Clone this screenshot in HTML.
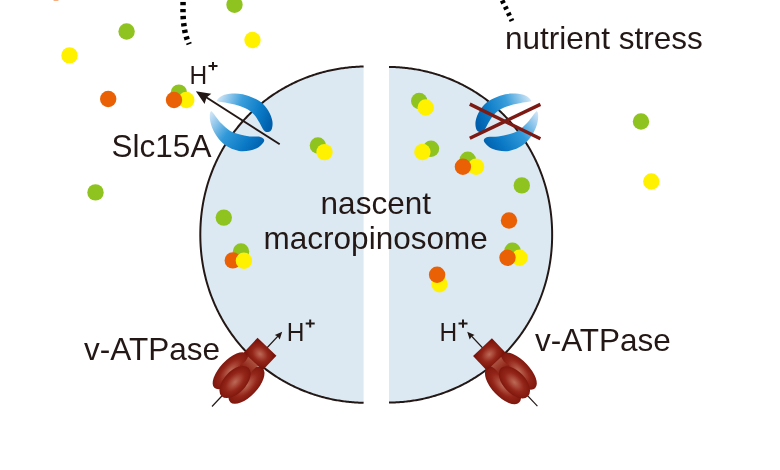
<!DOCTYPE html>
<html><head><meta charset="utf-8"><style>
html,body{margin:0;padding:0;background:#fff;width:780px;height:470px;overflow:hidden;font-family:"Liberation Sans",sans-serif;}
svg{display:block;will-change:transform}
</style></head><body>
<svg width="780" height="470" viewBox="0 0 780 470">
<defs>
<linearGradient id="gtop" gradientUnits="userSpaceOnUse" x1="217" y1="100" x2="272" y2="120">
<stop offset="0" stop-color="#d2e7f7"/><stop offset="0.4" stop-color="#3a9edb"/><stop offset="0.75" stop-color="#0b7bc7"/><stop offset="1" stop-color="#005fac"/></linearGradient>
<linearGradient id="gbot" gradientUnits="userSpaceOnUse" x1="212" y1="112" x2="262" y2="148">
<stop offset="0" stop-color="#cde4f6"/><stop offset="0.4" stop-color="#3199d9"/><stop offset="0.75" stop-color="#0a78c5"/><stop offset="1" stop-color="#005fac"/></linearGradient>
<radialGradient id="vrg" cx="0.5" cy="0.5" r="0.55">
<stop offset="0" stop-color="#bd6a58"/><stop offset="0.55" stop-color="#94261a"/><stop offset="1" stop-color="#7a130a"/></radialGradient>
<radialGradient id="vrh" cx="0.5" cy="0.5" r="0.6">
<stop offset="0" stop-color="#bd6a58"/><stop offset="0.55" stop-color="#94261a"/><stop offset="1" stop-color="#7a130a"/></radialGradient>
<linearGradient id="vneck" x1="0" y1="0" x2="0" y2="1"><stop offset="0" stop-color="#b05a48"/><stop offset="1" stop-color="#8a1d12"/></linearGradient>
</defs>
<rect width="780" height="470" fill="#fff"/>

<path d="M 363.60,66.52 L 363.01,66.54 L 361.64,66.57 L 360.29,66.62 L 358.94,66.67 L 357.59,66.74 L 356.25,66.82 L 354.91,66.90 L 353.57,67.00 L 352.23,67.11 L 350.90,67.23 L 349.57,67.35 L 348.24,67.49 L 346.92,67.64 L 345.60,67.80 L 344.28,67.96 L 342.96,68.14 L 341.65,68.33 L 340.33,68.53 L 339.02,68.74 L 337.72,68.96 L 336.41,69.19 L 335.11,69.43 L 333.81,69.67 L 332.52,69.93 L 331.22,70.20 L 329.93,70.48 L 328.65,70.77 L 327.36,71.07 L 326.08,71.38 L 324.80,71.70 L 323.53,72.03 L 322.26,72.36 L 320.99,72.71 L 319.72,73.07 L 318.46,73.44 L 317.20,73.82 L 315.95,74.21 L 314.70,74.60 L 313.45,75.01 L 312.21,75.43 L 310.97,75.85 L 309.73,76.29 L 308.50,76.74 L 307.27,77.19 L 306.04,77.66 L 304.82,78.13 L 303.61,78.62 L 302.40,79.11 L 301.19,79.61 L 299.99,80.13 L 298.79,80.65 L 297.59,81.18 L 296.40,81.72 L 295.22,82.27 L 294.04,82.83 L 292.86,83.40 L 291.69,83.98 L 290.52,84.56 L 289.36,85.16 L 288.20,85.77 L 287.05,86.38 L 285.91,87.00 L 284.77,87.64 L 283.63,88.28 L 282.50,88.93 L 281.37,89.59 L 280.25,90.26 L 279.14,90.93 L 278.03,91.62 L 276.93,92.32 L 275.83,93.02 L 274.74,93.73 L 273.65,94.45 L 272.57,95.18 L 271.50,95.92 L 270.43,96.66 L 269.37,97.42 L 268.31,98.18 L 267.27,98.95 L 266.22,99.73 L 265.18,100.52 L 264.15,101.32 L 263.13,102.12 L 262.11,102.94 L 261.10,103.76 L 260.10,104.58 L 259.10,105.42 L 258.11,106.27 L 257.12,107.12 L 256.14,107.98 L 255.17,108.85 L 254.21,109.72 L 253.25,110.61 L 252.30,111.50 L 251.36,112.40 L 250.42,113.30 L 249.49,114.22 L 248.57,115.14 L 247.66,116.07 L 246.75,117.00 L 245.85,117.95 L 244.96,118.90 L 244.08,119.85 L 243.20,120.82 L 242.33,121.79 L 241.47,122.77 L 240.62,123.75 L 239.77,124.75 L 238.93,125.75 L 238.10,126.75 L 237.28,127.76 L 236.47,128.78 L 235.66,129.81 L 234.86,130.84 L 234.07,131.88 L 233.29,132.93 L 232.52,133.98 L 231.75,135.04 L 230.99,136.10 L 230.25,137.17 L 229.51,138.25 L 228.77,139.33 L 228.05,140.42 L 227.34,141.51 L 226.63,142.61 L 225.93,143.72 L 225.24,144.83 L 224.56,145.95 L 223.89,147.07 L 223.23,148.20 L 222.57,149.33 L 221.93,150.47 L 221.29,151.62 L 220.66,152.77 L 220.04,153.92 L 219.43,155.09 L 218.83,156.25 L 218.24,157.42 L 217.66,158.60 L 217.09,159.78 L 216.52,160.96 L 215.97,162.15 L 215.42,163.35 L 214.88,164.55 L 214.36,165.75 L 213.84,166.96 L 213.33,168.17 L 212.83,169.39 L 212.34,170.61 L 211.86,171.84 L 211.39,173.07 L 210.93,174.30 L 210.48,175.54 L 210.03,176.78 L 209.60,178.03 L 209.18,179.28 L 208.76,180.53 L 208.36,181.79 L 207.96,183.05 L 207.58,184.32 L 207.20,185.58 L 206.84,186.86 L 206.48,188.13 L 206.14,189.41 L 205.80,190.69 L 205.48,191.98 L 205.16,193.26 L 204.85,194.56 L 204.56,195.85 L 204.27,197.15 L 203.99,198.45 L 203.73,199.75 L 203.47,201.06 L 203.22,202.37 L 202.99,203.68 L 202.76,204.99 L 202.54,206.31 L 202.33,207.63 L 202.14,208.95 L 201.95,210.28 L 201.77,211.60 L 201.61,212.93 L 201.45,214.27 L 201.30,215.60 L 201.17,216.94 L 201.04,218.28 L 200.92,219.62 L 200.82,220.97 L 200.72,222.32 L 200.63,223.67 L 200.56,225.02 L 200.49,226.38 L 200.44,227.74 L 200.39,229.11 L 200.36,230.48 L 200.33,231.86 L 200.32,233.25 L 200.31,234.67 L 200.32,236.09 L 200.33,237.48 L 200.36,238.86 L 200.39,240.23 L 200.44,241.60 L 200.49,242.96 L 200.56,244.32 L 200.63,245.67 L 200.72,247.02 L 200.82,248.37 L 200.92,249.72 L 201.04,251.06 L 201.17,252.40 L 201.30,253.74 L 201.45,255.07 L 201.61,256.41 L 201.77,257.74 L 201.95,259.06 L 202.14,260.39 L 202.33,261.71 L 202.54,263.03 L 202.76,264.35 L 202.99,265.66 L 203.22,266.97 L 203.47,268.28 L 203.73,269.59 L 203.99,270.89 L 204.27,272.19 L 204.56,273.49 L 204.85,274.78 L 205.16,276.08 L 205.48,277.36 L 205.80,278.65 L 206.14,279.93 L 206.48,281.21 L 206.84,282.48 L 207.20,283.76 L 207.58,285.02 L 207.96,286.29 L 208.36,287.55 L 208.76,288.81 L 209.18,290.06 L 209.60,291.31 L 210.03,292.56 L 210.48,293.80 L 210.93,295.04 L 211.39,296.27 L 211.86,297.50 L 212.34,298.73 L 212.83,299.95 L 213.33,301.17 L 213.84,302.38 L 214.36,303.59 L 214.88,304.79 L 215.42,305.99 L 215.97,307.19 L 216.52,308.38 L 217.09,309.56 L 217.66,310.74 L 218.24,311.92 L 218.83,313.09 L 219.43,314.25 L 220.04,315.42 L 220.66,316.57 L 221.29,317.72 L 221.93,318.87 L 222.57,320.01 L 223.23,321.14 L 223.89,322.27 L 224.56,323.39 L 225.24,324.51 L 225.93,325.62 L 226.63,326.73 L 227.34,327.83 L 228.05,328.92 L 228.77,330.01 L 229.51,331.09 L 230.25,332.17 L 230.99,333.24 L 231.75,334.30 L 232.52,335.36 L 233.29,336.41 L 234.07,337.46 L 234.86,338.50 L 235.66,339.53 L 236.47,340.56 L 237.28,341.58 L 238.10,342.59 L 238.93,343.59 L 239.77,344.59 L 240.62,345.59 L 241.47,346.57 L 242.33,347.55 L 243.20,348.52 L 244.08,349.49 L 244.96,350.44 L 245.85,351.39 L 246.75,352.34 L 247.66,353.27 L 248.57,354.20 L 249.49,355.12 L 250.42,356.04 L 251.36,356.94 L 252.30,357.84 L 253.25,358.73 L 254.21,359.62 L 255.17,360.49 L 256.14,361.36 L 257.12,362.22 L 258.11,363.07 L 259.10,363.92 L 260.10,364.76 L 261.10,365.58 L 262.11,366.40 L 263.13,367.22 L 264.15,368.02 L 265.18,368.82 L 266.22,369.61 L 267.27,370.39 L 268.31,371.16 L 269.37,371.92 L 270.43,372.68 L 271.50,373.42 L 272.57,374.16 L 273.65,374.89 L 274.74,375.61 L 275.83,376.32 L 276.93,377.02 L 278.03,377.72 L 279.14,378.41 L 280.25,379.08 L 281.37,379.75 L 282.50,380.41 L 283.63,381.06 L 284.77,381.70 L 285.91,382.34 L 287.05,382.96 L 288.20,383.57 L 289.36,384.18 L 290.52,384.78 L 291.69,385.36 L 292.86,385.94 L 294.04,386.51 L 295.22,387.07 L 296.40,387.62 L 297.59,388.16 L 298.79,388.69 L 299.99,389.21 L 301.19,389.73 L 302.40,390.23 L 303.61,390.72 L 304.82,391.21 L 306.04,391.68 L 307.27,392.15 L 308.50,392.60 L 309.73,393.05 L 310.97,393.49 L 312.21,393.91 L 313.45,394.33 L 314.70,394.74 L 315.95,395.13 L 317.20,395.52 L 318.46,395.90 L 319.72,396.27 L 320.99,396.63 L 322.26,396.98 L 323.53,397.31 L 324.80,397.64 L 326.08,397.96 L 327.36,398.27 L 328.65,398.57 L 329.93,398.86 L 331.22,399.14 L 332.52,399.41 L 333.81,399.67 L 335.11,399.91 L 336.41,400.15 L 337.72,400.38 L 339.02,400.60 L 340.33,400.81 L 341.65,401.01 L 342.96,401.20 L 344.28,401.38 L 345.60,401.54 L 346.92,401.70 L 348.24,401.85 L 349.57,401.99 L 350.90,402.11 L 352.23,402.23 L 353.57,402.34 L 354.91,402.44 L 356.25,402.52 L 357.59,402.60 L 358.94,402.67 L 360.29,402.72 L 361.64,402.77 L 363.01,402.80 L 363.60,402.82 Z" fill="#dce9f2" stroke="none"/>
<path d="M 363.60,66.52 L 363.01,66.54 L 361.64,66.57 L 360.29,66.62 L 358.94,66.67 L 357.59,66.74 L 356.25,66.82 L 354.91,66.90 L 353.57,67.00 L 352.23,67.11 L 350.90,67.23 L 349.57,67.35 L 348.24,67.49 L 346.92,67.64 L 345.60,67.80 L 344.28,67.96 L 342.96,68.14 L 341.65,68.33 L 340.33,68.53 L 339.02,68.74 L 337.72,68.96 L 336.41,69.19 L 335.11,69.43 L 333.81,69.67 L 332.52,69.93 L 331.22,70.20 L 329.93,70.48 L 328.65,70.77 L 327.36,71.07 L 326.08,71.38 L 324.80,71.70 L 323.53,72.03 L 322.26,72.36 L 320.99,72.71 L 319.72,73.07 L 318.46,73.44 L 317.20,73.82 L 315.95,74.21 L 314.70,74.60 L 313.45,75.01 L 312.21,75.43 L 310.97,75.85 L 309.73,76.29 L 308.50,76.74 L 307.27,77.19 L 306.04,77.66 L 304.82,78.13 L 303.61,78.62 L 302.40,79.11 L 301.19,79.61 L 299.99,80.13 L 298.79,80.65 L 297.59,81.18 L 296.40,81.72 L 295.22,82.27 L 294.04,82.83 L 292.86,83.40 L 291.69,83.98 L 290.52,84.56 L 289.36,85.16 L 288.20,85.77 L 287.05,86.38 L 285.91,87.00 L 284.77,87.64 L 283.63,88.28 L 282.50,88.93 L 281.37,89.59 L 280.25,90.26 L 279.14,90.93 L 278.03,91.62 L 276.93,92.32 L 275.83,93.02 L 274.74,93.73 L 273.65,94.45 L 272.57,95.18 L 271.50,95.92 L 270.43,96.66 L 269.37,97.42 L 268.31,98.18 L 267.27,98.95 L 266.22,99.73 L 265.18,100.52 L 264.15,101.32 L 263.13,102.12 L 262.11,102.94 L 261.10,103.76 L 260.10,104.58 L 259.10,105.42 L 258.11,106.27 L 257.12,107.12 L 256.14,107.98 L 255.17,108.85 L 254.21,109.72 L 253.25,110.61 L 252.30,111.50 L 251.36,112.40 L 250.42,113.30 L 249.49,114.22 L 248.57,115.14 L 247.66,116.07 L 246.75,117.00 L 245.85,117.95 L 244.96,118.90 L 244.08,119.85 L 243.20,120.82 L 242.33,121.79 L 241.47,122.77 L 240.62,123.75 L 239.77,124.75 L 238.93,125.75 L 238.10,126.75 L 237.28,127.76 L 236.47,128.78 L 235.66,129.81 L 234.86,130.84 L 234.07,131.88 L 233.29,132.93 L 232.52,133.98 L 231.75,135.04 L 230.99,136.10 L 230.25,137.17 L 229.51,138.25 L 228.77,139.33 L 228.05,140.42 L 227.34,141.51 L 226.63,142.61 L 225.93,143.72 L 225.24,144.83 L 224.56,145.95 L 223.89,147.07 L 223.23,148.20 L 222.57,149.33 L 221.93,150.47 L 221.29,151.62 L 220.66,152.77 L 220.04,153.92 L 219.43,155.09 L 218.83,156.25 L 218.24,157.42 L 217.66,158.60 L 217.09,159.78 L 216.52,160.96 L 215.97,162.15 L 215.42,163.35 L 214.88,164.55 L 214.36,165.75 L 213.84,166.96 L 213.33,168.17 L 212.83,169.39 L 212.34,170.61 L 211.86,171.84 L 211.39,173.07 L 210.93,174.30 L 210.48,175.54 L 210.03,176.78 L 209.60,178.03 L 209.18,179.28 L 208.76,180.53 L 208.36,181.79 L 207.96,183.05 L 207.58,184.32 L 207.20,185.58 L 206.84,186.86 L 206.48,188.13 L 206.14,189.41 L 205.80,190.69 L 205.48,191.98 L 205.16,193.26 L 204.85,194.56 L 204.56,195.85 L 204.27,197.15 L 203.99,198.45 L 203.73,199.75 L 203.47,201.06 L 203.22,202.37 L 202.99,203.68 L 202.76,204.99 L 202.54,206.31 L 202.33,207.63 L 202.14,208.95 L 201.95,210.28 L 201.77,211.60 L 201.61,212.93 L 201.45,214.27 L 201.30,215.60 L 201.17,216.94 L 201.04,218.28 L 200.92,219.62 L 200.82,220.97 L 200.72,222.32 L 200.63,223.67 L 200.56,225.02 L 200.49,226.38 L 200.44,227.74 L 200.39,229.11 L 200.36,230.48 L 200.33,231.86 L 200.32,233.25 L 200.31,234.67 L 200.32,236.09 L 200.33,237.48 L 200.36,238.86 L 200.39,240.23 L 200.44,241.60 L 200.49,242.96 L 200.56,244.32 L 200.63,245.67 L 200.72,247.02 L 200.82,248.37 L 200.92,249.72 L 201.04,251.06 L 201.17,252.40 L 201.30,253.74 L 201.45,255.07 L 201.61,256.41 L 201.77,257.74 L 201.95,259.06 L 202.14,260.39 L 202.33,261.71 L 202.54,263.03 L 202.76,264.35 L 202.99,265.66 L 203.22,266.97 L 203.47,268.28 L 203.73,269.59 L 203.99,270.89 L 204.27,272.19 L 204.56,273.49 L 204.85,274.78 L 205.16,276.08 L 205.48,277.36 L 205.80,278.65 L 206.14,279.93 L 206.48,281.21 L 206.84,282.48 L 207.20,283.76 L 207.58,285.02 L 207.96,286.29 L 208.36,287.55 L 208.76,288.81 L 209.18,290.06 L 209.60,291.31 L 210.03,292.56 L 210.48,293.80 L 210.93,295.04 L 211.39,296.27 L 211.86,297.50 L 212.34,298.73 L 212.83,299.95 L 213.33,301.17 L 213.84,302.38 L 214.36,303.59 L 214.88,304.79 L 215.42,305.99 L 215.97,307.19 L 216.52,308.38 L 217.09,309.56 L 217.66,310.74 L 218.24,311.92 L 218.83,313.09 L 219.43,314.25 L 220.04,315.42 L 220.66,316.57 L 221.29,317.72 L 221.93,318.87 L 222.57,320.01 L 223.23,321.14 L 223.89,322.27 L 224.56,323.39 L 225.24,324.51 L 225.93,325.62 L 226.63,326.73 L 227.34,327.83 L 228.05,328.92 L 228.77,330.01 L 229.51,331.09 L 230.25,332.17 L 230.99,333.24 L 231.75,334.30 L 232.52,335.36 L 233.29,336.41 L 234.07,337.46 L 234.86,338.50 L 235.66,339.53 L 236.47,340.56 L 237.28,341.58 L 238.10,342.59 L 238.93,343.59 L 239.77,344.59 L 240.62,345.59 L 241.47,346.57 L 242.33,347.55 L 243.20,348.52 L 244.08,349.49 L 244.96,350.44 L 245.85,351.39 L 246.75,352.34 L 247.66,353.27 L 248.57,354.20 L 249.49,355.12 L 250.42,356.04 L 251.36,356.94 L 252.30,357.84 L 253.25,358.73 L 254.21,359.62 L 255.17,360.49 L 256.14,361.36 L 257.12,362.22 L 258.11,363.07 L 259.10,363.92 L 260.10,364.76 L 261.10,365.58 L 262.11,366.40 L 263.13,367.22 L 264.15,368.02 L 265.18,368.82 L 266.22,369.61 L 267.27,370.39 L 268.31,371.16 L 269.37,371.92 L 270.43,372.68 L 271.50,373.42 L 272.57,374.16 L 273.65,374.89 L 274.74,375.61 L 275.83,376.32 L 276.93,377.02 L 278.03,377.72 L 279.14,378.41 L 280.25,379.08 L 281.37,379.75 L 282.50,380.41 L 283.63,381.06 L 284.77,381.70 L 285.91,382.34 L 287.05,382.96 L 288.20,383.57 L 289.36,384.18 L 290.52,384.78 L 291.69,385.36 L 292.86,385.94 L 294.04,386.51 L 295.22,387.07 L 296.40,387.62 L 297.59,388.16 L 298.79,388.69 L 299.99,389.21 L 301.19,389.73 L 302.40,390.23 L 303.61,390.72 L 304.82,391.21 L 306.04,391.68 L 307.27,392.15 L 308.50,392.60 L 309.73,393.05 L 310.97,393.49 L 312.21,393.91 L 313.45,394.33 L 314.70,394.74 L 315.95,395.13 L 317.20,395.52 L 318.46,395.90 L 319.72,396.27 L 320.99,396.63 L 322.26,396.98 L 323.53,397.31 L 324.80,397.64 L 326.08,397.96 L 327.36,398.27 L 328.65,398.57 L 329.93,398.86 L 331.22,399.14 L 332.52,399.41 L 333.81,399.67 L 335.11,399.91 L 336.41,400.15 L 337.72,400.38 L 339.02,400.60 L 340.33,400.81 L 341.65,401.01 L 342.96,401.20 L 344.28,401.38 L 345.60,401.54 L 346.92,401.70 L 348.24,401.85 L 349.57,401.99 L 350.90,402.11 L 352.23,402.23 L 353.57,402.34 L 354.91,402.44 L 356.25,402.52 L 357.59,402.60 L 358.94,402.67 L 360.29,402.72 L 361.64,402.77 L 363.01,402.80 L 363.60,402.82" fill="none" stroke="#231815" stroke-width="2"/>
<path d="M 389.00,66.93 L 389.62,66.94 L 390.98,66.97 L 392.32,67.00 L 393.67,67.05 L 395.01,67.10 L 396.34,67.17 L 397.67,67.25 L 399.00,67.33 L 400.33,67.43 L 401.65,67.54 L 402.97,67.65 L 404.29,67.78 L 405.60,67.92 L 406.91,68.07 L 408.22,68.22 L 409.53,68.39 L 410.83,68.57 L 412.14,68.76 L 413.44,68.96 L 414.73,69.16 L 416.03,69.38 L 417.32,69.61 L 418.61,69.85 L 419.89,70.10 L 421.18,70.36 L 422.46,70.62 L 423.74,70.90 L 425.01,71.19 L 426.28,71.49 L 427.55,71.80 L 428.82,72.12 L 430.08,72.44 L 431.34,72.78 L 432.60,73.13 L 433.85,73.49 L 435.10,73.86 L 436.35,74.23 L 437.59,74.62 L 438.83,75.02 L 440.07,75.42 L 441.30,75.84 L 442.53,76.27 L 443.75,76.70 L 444.97,77.15 L 446.19,77.60 L 447.40,78.07 L 448.61,78.54 L 449.82,79.02 L 451.02,79.52 L 452.21,80.02 L 453.41,80.53 L 454.59,81.05 L 455.78,81.58 L 456.96,82.12 L 458.13,82.67 L 459.30,83.23 L 460.47,83.80 L 461.63,84.37 L 462.78,84.96 L 463.93,85.55 L 465.08,86.16 L 466.22,86.77 L 467.35,87.39 L 468.48,88.03 L 469.61,88.67 L 470.73,89.32 L 471.84,89.97 L 472.95,90.64 L 474.06,91.32 L 475.15,92.00 L 476.25,92.69 L 477.33,93.40 L 478.42,94.11 L 479.49,94.83 L 480.56,95.55 L 481.63,96.29 L 482.68,97.04 L 483.74,97.79 L 484.78,98.55 L 485.82,99.32 L 486.85,100.10 L 487.88,100.89 L 488.90,101.68 L 489.92,102.48 L 490.93,103.29 L 491.93,104.11 L 492.92,104.94 L 493.91,105.78 L 494.89,106.62 L 495.87,107.47 L 496.84,108.33 L 497.80,109.19 L 498.76,110.07 L 499.70,110.95 L 500.64,111.84 L 501.58,112.74 L 502.51,113.64 L 503.43,114.55 L 504.34,115.47 L 505.24,116.40 L 506.14,117.33 L 507.03,118.27 L 507.92,119.22 L 508.79,120.18 L 509.66,121.14 L 510.52,122.11 L 511.37,123.09 L 512.22,124.07 L 513.06,125.06 L 513.89,126.06 L 514.71,127.06 L 515.52,128.07 L 516.33,129.09 L 517.13,130.12 L 517.92,131.15 L 518.70,132.18 L 519.48,133.23 L 520.24,134.28 L 521.00,135.33 L 521.75,136.39 L 522.49,137.46 L 523.23,138.54 L 523.95,139.62 L 524.67,140.70 L 525.38,141.80 L 526.08,142.89 L 526.77,144.00 L 527.45,145.11 L 528.13,146.22 L 528.79,147.34 L 529.45,148.47 L 530.10,149.60 L 530.74,150.74 L 531.37,151.88 L 531.99,153.03 L 532.60,154.18 L 533.20,155.34 L 533.80,156.50 L 534.39,157.67 L 534.96,158.85 L 535.53,160.02 L 536.09,161.21 L 536.64,162.40 L 537.18,163.59 L 537.71,164.78 L 538.23,165.99 L 538.75,167.19 L 539.25,168.40 L 539.75,169.62 L 540.23,170.84 L 540.71,172.06 L 541.17,173.29 L 541.63,174.52 L 542.08,175.76 L 542.52,177.00 L 542.95,178.24 L 543.37,179.49 L 543.78,180.74 L 544.18,181.99 L 544.57,183.25 L 544.95,184.51 L 545.32,185.78 L 545.68,187.05 L 546.03,188.32 L 546.38,189.60 L 546.71,190.88 L 547.03,192.16 L 547.35,193.45 L 547.65,194.73 L 547.94,196.03 L 548.23,197.32 L 548.50,198.62 L 548.77,199.92 L 549.02,201.22 L 549.27,202.53 L 549.50,203.84 L 549.72,205.15 L 549.94,206.47 L 550.14,207.78 L 550.34,209.10 L 550.53,210.42 L 550.70,211.75 L 550.87,213.08 L 551.02,214.41 L 551.17,215.74 L 551.30,217.07 L 551.43,218.41 L 551.54,219.75 L 551.65,221.10 L 551.74,222.44 L 551.83,223.79 L 551.90,225.14 L 551.97,226.50 L 552.02,227.86 L 552.07,229.22 L 552.10,230.59 L 552.13,231.97 L 552.14,233.35 L 552.15,234.77 L 552.14,236.19 L 552.13,237.57 L 552.10,238.95 L 552.07,240.32 L 552.02,241.68 L 551.97,243.04 L 551.90,244.40 L 551.83,245.75 L 551.74,247.10 L 551.65,248.44 L 551.54,249.79 L 551.43,251.13 L 551.30,252.47 L 551.17,253.80 L 551.02,255.13 L 550.87,256.46 L 550.70,257.79 L 550.53,259.12 L 550.34,260.44 L 550.14,261.76 L 549.94,263.07 L 549.72,264.39 L 549.50,265.70 L 549.27,267.01 L 549.02,268.32 L 548.77,269.62 L 548.50,270.92 L 548.23,272.22 L 547.94,273.51 L 547.65,274.81 L 547.35,276.09 L 547.03,277.38 L 546.71,278.66 L 546.38,279.94 L 546.03,281.22 L 545.68,282.49 L 545.32,283.76 L 544.95,285.03 L 544.57,286.29 L 544.18,287.55 L 543.78,288.80 L 543.37,290.05 L 542.95,291.30 L 542.52,292.54 L 542.08,293.78 L 541.63,295.02 L 541.17,296.25 L 540.71,297.48 L 540.23,298.70 L 539.75,299.92 L 539.25,301.14 L 538.75,302.35 L 538.23,303.55 L 537.71,304.76 L 537.18,305.95 L 536.64,307.14 L 536.09,308.33 L 535.53,309.52 L 534.96,310.69 L 534.39,311.87 L 533.80,313.04 L 533.20,314.20 L 532.60,315.36 L 531.99,316.51 L 531.37,317.66 L 530.74,318.80 L 530.10,319.94 L 529.45,321.07 L 528.79,322.20 L 528.13,323.32 L 527.45,324.43 L 526.77,325.54 L 526.08,326.65 L 525.38,327.74 L 524.67,328.84 L 523.95,329.92 L 523.23,331.00 L 522.49,332.08 L 521.75,333.15 L 521.00,334.21 L 520.24,335.26 L 519.48,336.31 L 518.70,337.36 L 517.92,338.39 L 517.13,339.42 L 516.33,340.45 L 515.52,341.47 L 514.71,342.48 L 513.89,343.48 L 513.06,344.48 L 512.22,345.47 L 511.37,346.45 L 510.52,347.43 L 509.66,348.40 L 508.79,349.36 L 507.92,350.32 L 507.03,351.27 L 506.14,352.21 L 505.24,353.14 L 504.34,354.07 L 503.43,354.99 L 502.51,355.90 L 501.58,356.80 L 500.64,357.70 L 499.70,358.59 L 498.76,359.47 L 497.80,360.35 L 496.84,361.21 L 495.87,362.07 L 494.89,362.92 L 493.91,363.76 L 492.92,364.60 L 491.93,365.43 L 490.93,366.25 L 489.92,367.06 L 488.90,367.86 L 487.88,368.65 L 486.85,369.44 L 485.82,370.22 L 484.78,370.99 L 483.74,371.75 L 482.68,372.50 L 481.63,373.25 L 480.56,373.99 L 479.49,374.71 L 478.42,375.43 L 477.33,376.14 L 476.25,376.85 L 475.15,377.54 L 474.06,378.22 L 472.95,378.90 L 471.84,379.57 L 470.73,380.22 L 469.61,380.87 L 468.48,381.51 L 467.35,382.15 L 466.22,382.77 L 465.08,383.38 L 463.93,383.99 L 462.78,384.58 L 461.63,385.17 L 460.47,385.74 L 459.30,386.31 L 458.13,386.87 L 456.96,387.42 L 455.78,387.96 L 454.59,388.49 L 453.41,389.01 L 452.21,389.52 L 451.02,390.02 L 449.82,390.52 L 448.61,391.00 L 447.40,391.47 L 446.19,391.94 L 444.97,392.39 L 443.75,392.84 L 442.53,393.27 L 441.30,393.70 L 440.07,394.12 L 438.83,394.52 L 437.59,394.92 L 436.35,395.31 L 435.10,395.68 L 433.85,396.05 L 432.60,396.41 L 431.34,396.76 L 430.08,397.10 L 428.82,397.42 L 427.55,397.74 L 426.28,398.05 L 425.01,398.35 L 423.74,398.64 L 422.46,398.92 L 421.18,399.18 L 419.89,399.44 L 418.61,399.69 L 417.32,399.93 L 416.03,400.16 L 414.73,400.38 L 413.44,400.58 L 412.14,400.78 L 410.83,400.97 L 409.53,401.15 L 408.22,401.32 L 406.91,401.47 L 405.60,401.62 L 404.29,401.76 L 402.97,401.89 L 401.65,402.00 L 400.33,402.11 L 399.00,402.21 L 397.67,402.29 L 396.34,402.37 L 395.01,402.44 L 393.67,402.49 L 392.32,402.54 L 390.98,402.57 L 389.62,402.60 L 389.00,402.61 Z" fill="#dce9f2" stroke="none"/>
<path d="M 389.00,66.93 L 389.62,66.94 L 390.98,66.97 L 392.32,67.00 L 393.67,67.05 L 395.01,67.10 L 396.34,67.17 L 397.67,67.25 L 399.00,67.33 L 400.33,67.43 L 401.65,67.54 L 402.97,67.65 L 404.29,67.78 L 405.60,67.92 L 406.91,68.07 L 408.22,68.22 L 409.53,68.39 L 410.83,68.57 L 412.14,68.76 L 413.44,68.96 L 414.73,69.16 L 416.03,69.38 L 417.32,69.61 L 418.61,69.85 L 419.89,70.10 L 421.18,70.36 L 422.46,70.62 L 423.74,70.90 L 425.01,71.19 L 426.28,71.49 L 427.55,71.80 L 428.82,72.12 L 430.08,72.44 L 431.34,72.78 L 432.60,73.13 L 433.85,73.49 L 435.10,73.86 L 436.35,74.23 L 437.59,74.62 L 438.83,75.02 L 440.07,75.42 L 441.30,75.84 L 442.53,76.27 L 443.75,76.70 L 444.97,77.15 L 446.19,77.60 L 447.40,78.07 L 448.61,78.54 L 449.82,79.02 L 451.02,79.52 L 452.21,80.02 L 453.41,80.53 L 454.59,81.05 L 455.78,81.58 L 456.96,82.12 L 458.13,82.67 L 459.30,83.23 L 460.47,83.80 L 461.63,84.37 L 462.78,84.96 L 463.93,85.55 L 465.08,86.16 L 466.22,86.77 L 467.35,87.39 L 468.48,88.03 L 469.61,88.67 L 470.73,89.32 L 471.84,89.97 L 472.95,90.64 L 474.06,91.32 L 475.15,92.00 L 476.25,92.69 L 477.33,93.40 L 478.42,94.11 L 479.49,94.83 L 480.56,95.55 L 481.63,96.29 L 482.68,97.04 L 483.74,97.79 L 484.78,98.55 L 485.82,99.32 L 486.85,100.10 L 487.88,100.89 L 488.90,101.68 L 489.92,102.48 L 490.93,103.29 L 491.93,104.11 L 492.92,104.94 L 493.91,105.78 L 494.89,106.62 L 495.87,107.47 L 496.84,108.33 L 497.80,109.19 L 498.76,110.07 L 499.70,110.95 L 500.64,111.84 L 501.58,112.74 L 502.51,113.64 L 503.43,114.55 L 504.34,115.47 L 505.24,116.40 L 506.14,117.33 L 507.03,118.27 L 507.92,119.22 L 508.79,120.18 L 509.66,121.14 L 510.52,122.11 L 511.37,123.09 L 512.22,124.07 L 513.06,125.06 L 513.89,126.06 L 514.71,127.06 L 515.52,128.07 L 516.33,129.09 L 517.13,130.12 L 517.92,131.15 L 518.70,132.18 L 519.48,133.23 L 520.24,134.28 L 521.00,135.33 L 521.75,136.39 L 522.49,137.46 L 523.23,138.54 L 523.95,139.62 L 524.67,140.70 L 525.38,141.80 L 526.08,142.89 L 526.77,144.00 L 527.45,145.11 L 528.13,146.22 L 528.79,147.34 L 529.45,148.47 L 530.10,149.60 L 530.74,150.74 L 531.37,151.88 L 531.99,153.03 L 532.60,154.18 L 533.20,155.34 L 533.80,156.50 L 534.39,157.67 L 534.96,158.85 L 535.53,160.02 L 536.09,161.21 L 536.64,162.40 L 537.18,163.59 L 537.71,164.78 L 538.23,165.99 L 538.75,167.19 L 539.25,168.40 L 539.75,169.62 L 540.23,170.84 L 540.71,172.06 L 541.17,173.29 L 541.63,174.52 L 542.08,175.76 L 542.52,177.00 L 542.95,178.24 L 543.37,179.49 L 543.78,180.74 L 544.18,181.99 L 544.57,183.25 L 544.95,184.51 L 545.32,185.78 L 545.68,187.05 L 546.03,188.32 L 546.38,189.60 L 546.71,190.88 L 547.03,192.16 L 547.35,193.45 L 547.65,194.73 L 547.94,196.03 L 548.23,197.32 L 548.50,198.62 L 548.77,199.92 L 549.02,201.22 L 549.27,202.53 L 549.50,203.84 L 549.72,205.15 L 549.94,206.47 L 550.14,207.78 L 550.34,209.10 L 550.53,210.42 L 550.70,211.75 L 550.87,213.08 L 551.02,214.41 L 551.17,215.74 L 551.30,217.07 L 551.43,218.41 L 551.54,219.75 L 551.65,221.10 L 551.74,222.44 L 551.83,223.79 L 551.90,225.14 L 551.97,226.50 L 552.02,227.86 L 552.07,229.22 L 552.10,230.59 L 552.13,231.97 L 552.14,233.35 L 552.15,234.77 L 552.14,236.19 L 552.13,237.57 L 552.10,238.95 L 552.07,240.32 L 552.02,241.68 L 551.97,243.04 L 551.90,244.40 L 551.83,245.75 L 551.74,247.10 L 551.65,248.44 L 551.54,249.79 L 551.43,251.13 L 551.30,252.47 L 551.17,253.80 L 551.02,255.13 L 550.87,256.46 L 550.70,257.79 L 550.53,259.12 L 550.34,260.44 L 550.14,261.76 L 549.94,263.07 L 549.72,264.39 L 549.50,265.70 L 549.27,267.01 L 549.02,268.32 L 548.77,269.62 L 548.50,270.92 L 548.23,272.22 L 547.94,273.51 L 547.65,274.81 L 547.35,276.09 L 547.03,277.38 L 546.71,278.66 L 546.38,279.94 L 546.03,281.22 L 545.68,282.49 L 545.32,283.76 L 544.95,285.03 L 544.57,286.29 L 544.18,287.55 L 543.78,288.80 L 543.37,290.05 L 542.95,291.30 L 542.52,292.54 L 542.08,293.78 L 541.63,295.02 L 541.17,296.25 L 540.71,297.48 L 540.23,298.70 L 539.75,299.92 L 539.25,301.14 L 538.75,302.35 L 538.23,303.55 L 537.71,304.76 L 537.18,305.95 L 536.64,307.14 L 536.09,308.33 L 535.53,309.52 L 534.96,310.69 L 534.39,311.87 L 533.80,313.04 L 533.20,314.20 L 532.60,315.36 L 531.99,316.51 L 531.37,317.66 L 530.74,318.80 L 530.10,319.94 L 529.45,321.07 L 528.79,322.20 L 528.13,323.32 L 527.45,324.43 L 526.77,325.54 L 526.08,326.65 L 525.38,327.74 L 524.67,328.84 L 523.95,329.92 L 523.23,331.00 L 522.49,332.08 L 521.75,333.15 L 521.00,334.21 L 520.24,335.26 L 519.48,336.31 L 518.70,337.36 L 517.92,338.39 L 517.13,339.42 L 516.33,340.45 L 515.52,341.47 L 514.71,342.48 L 513.89,343.48 L 513.06,344.48 L 512.22,345.47 L 511.37,346.45 L 510.52,347.43 L 509.66,348.40 L 508.79,349.36 L 507.92,350.32 L 507.03,351.27 L 506.14,352.21 L 505.24,353.14 L 504.34,354.07 L 503.43,354.99 L 502.51,355.90 L 501.58,356.80 L 500.64,357.70 L 499.70,358.59 L 498.76,359.47 L 497.80,360.35 L 496.84,361.21 L 495.87,362.07 L 494.89,362.92 L 493.91,363.76 L 492.92,364.60 L 491.93,365.43 L 490.93,366.25 L 489.92,367.06 L 488.90,367.86 L 487.88,368.65 L 486.85,369.44 L 485.82,370.22 L 484.78,370.99 L 483.74,371.75 L 482.68,372.50 L 481.63,373.25 L 480.56,373.99 L 479.49,374.71 L 478.42,375.43 L 477.33,376.14 L 476.25,376.85 L 475.15,377.54 L 474.06,378.22 L 472.95,378.90 L 471.84,379.57 L 470.73,380.22 L 469.61,380.87 L 468.48,381.51 L 467.35,382.15 L 466.22,382.77 L 465.08,383.38 L 463.93,383.99 L 462.78,384.58 L 461.63,385.17 L 460.47,385.74 L 459.30,386.31 L 458.13,386.87 L 456.96,387.42 L 455.78,387.96 L 454.59,388.49 L 453.41,389.01 L 452.21,389.52 L 451.02,390.02 L 449.82,390.52 L 448.61,391.00 L 447.40,391.47 L 446.19,391.94 L 444.97,392.39 L 443.75,392.84 L 442.53,393.27 L 441.30,393.70 L 440.07,394.12 L 438.83,394.52 L 437.59,394.92 L 436.35,395.31 L 435.10,395.68 L 433.85,396.05 L 432.60,396.41 L 431.34,396.76 L 430.08,397.10 L 428.82,397.42 L 427.55,397.74 L 426.28,398.05 L 425.01,398.35 L 423.74,398.64 L 422.46,398.92 L 421.18,399.18 L 419.89,399.44 L 418.61,399.69 L 417.32,399.93 L 416.03,400.16 L 414.73,400.38 L 413.44,400.58 L 412.14,400.78 L 410.83,400.97 L 409.53,401.15 L 408.22,401.32 L 406.91,401.47 L 405.60,401.62 L 404.29,401.76 L 402.97,401.89 L 401.65,402.00 L 400.33,402.11 L 399.00,402.21 L 397.67,402.29 L 396.34,402.37 L 395.01,402.44 L 393.67,402.49 L 392.32,402.54 L 390.98,402.57 L 389.62,402.60 L 389.00,402.61" fill="none" stroke="#231815" stroke-width="2"/>
<line x1="183.05" y1="1.95" x2="183.05" y2="5.25" stroke="#000" stroke-width="5.5"/>
<line x1="182.98" y1="8.95" x2="183.02" y2="12.25" stroke="#000" stroke-width="5.5"/>
<line x1="183.10" y1="15.95" x2="183.30" y2="19.25" stroke="#000" stroke-width="5.5"/>
<line x1="183.70" y1="23.16" x2="184.10" y2="26.44" stroke="#000" stroke-width="5.5"/>
<line x1="184.57" y1="29.78" x2="185.23" y2="33.02" stroke="#000" stroke-width="5.5"/>
<line x1="186.20" y1="36.53" x2="187.20" y2="39.67" stroke="#000" stroke-width="5.5"/>
<line x1="188.59" y1="42.76" x2="189.21" y2="44.24" stroke="#000" stroke-width="5.5"/>
<line x1="502.13" y1="0.51" x2="503.57" y2="3.37" stroke="#000" stroke-width="4.9"/>
<line x1="505.20" y1="6.56" x2="506.60" y2="9.44" stroke="#000" stroke-width="4.9"/>
<line x1="508.23" y1="12.85" x2="509.57" y2="15.75" stroke="#000" stroke-width="4.9"/>
<line x1="511.06" y1="19.05" x2="511.94" y2="20.95" stroke="#000" stroke-width="4.9"/>
<circle cx="56" cy="-7.6" r="8.2" fill="#e96005"/>
<circle cx="126.6" cy="31.5" r="8.2" fill="#8fc31f"/>
<circle cx="69.5" cy="55.4" r="8.2" fill="#fff100"/>
<circle cx="108.2" cy="99" r="8.2" fill="#e96005"/>
<circle cx="234.5" cy="4.7" r="8.2" fill="#8fc31f"/>
<circle cx="252.5" cy="40" r="8.2" fill="#fff100"/>
<circle cx="95.5" cy="192.4" r="8.2" fill="#8fc31f"/>
<circle cx="178.9" cy="92.6" r="8.2" fill="#8fc31f"/>
<circle cx="186.3" cy="100" r="8.2" fill="#fff100"/>
<circle cx="174" cy="100" r="8.2" fill="#e96005"/>
<circle cx="317.9" cy="145.5" r="8.2" fill="#8fc31f"/>
<circle cx="324.5" cy="152.1" r="8.2" fill="#fff100"/>
<circle cx="223.8" cy="217.6" r="8.2" fill="#8fc31f"/>
<circle cx="241" cy="251.5" r="8.2" fill="#8fc31f"/>
<circle cx="232.8" cy="260.4" r="8.2" fill="#e96005"/>
<circle cx="243.9" cy="260.8" r="8.2" fill="#fff100"/>
<circle cx="419.2" cy="101" r="8.2" fill="#8fc31f"/>
<circle cx="425.7" cy="107.5" r="8.2" fill="#fff100"/>
<circle cx="431" cy="148.8" r="8.2" fill="#8fc31f"/>
<circle cx="422.4" cy="152" r="8.2" fill="#fff100"/>
<circle cx="467.8" cy="159.8" r="8.2" fill="#8fc31f"/>
<circle cx="476" cy="166.8" r="8.2" fill="#fff100"/>
<circle cx="462.9" cy="166.8" r="8.2" fill="#e96005"/>
<circle cx="521.8" cy="185.4" r="8.2" fill="#8fc31f"/>
<circle cx="509" cy="220.5" r="8.2" fill="#e96005"/>
<circle cx="512.5" cy="250.7" r="8.2" fill="#8fc31f"/>
<circle cx="519.6" cy="257.8" r="8.2" fill="#fff100"/>
<circle cx="507.5" cy="257.8" r="8.2" fill="#e96005"/>
<circle cx="439.5" cy="284.2" r="8.2" fill="#fff100"/>
<circle cx="437.1" cy="274.8" r="8.2" fill="#e96005"/>
<circle cx="641" cy="121.5" r="8.2" fill="#8fc31f"/>
<circle cx="651.3" cy="181.5" r="8.2" fill="#fff100"/>
<path d="M 217.10,100.30 C 217.57,99.28 219.65,96.82 222.20,95.70 C 224.75,94.58 228.98,93.83 232.40,93.60 C 235.82,93.37 239.28,93.62 242.70,94.30 C 246.12,94.98 249.83,96.37 252.90,97.70 C 255.97,99.03 258.55,100.17 261.10,102.30 C 263.65,104.43 266.33,107.43 268.20,110.50 C 270.07,113.57 271.70,117.63 272.30,120.70 C 272.90,123.77 272.48,127.02 271.80,128.90 C 271.12,130.78 269.50,131.72 268.20,132.00 C 266.90,132.28 265.47,132.17 264.00,130.60 C 262.53,129.03 261.07,125.27 259.40,122.60 C 257.73,119.93 256.07,116.87 254.00,114.60 C 251.93,112.33 249.78,110.57 247.00,109.00 C 244.22,107.43 240.58,106.20 237.30,105.20 C 234.02,104.20 230.28,103.57 227.30,103.00 C 224.32,102.43 221.10,102.25 219.40,101.80 C 217.70,101.35 216.63,101.32 217.10,100.30 Z" fill="url(#gtop)"/>
<path d="M 210.90,111.40 C 210.28,111.75 209.83,113.62 209.80,115.60 C 209.77,117.58 209.95,120.53 210.70,123.30 C 211.45,126.07 212.65,129.25 214.30,132.20 C 215.95,135.15 218.10,138.43 220.60,141.00 C 223.10,143.57 226.23,145.95 229.30,147.60 C 232.37,149.25 235.60,150.42 239.00,150.90 C 242.40,151.38 246.50,151.08 249.70,150.50 C 252.90,149.92 255.95,148.68 258.20,147.40 C 260.45,146.12 262.23,144.12 263.20,142.80 C 264.17,141.48 264.48,140.48 264.00,139.50 C 263.52,138.52 262.68,137.42 260.30,136.90 C 257.92,136.38 253.25,136.83 249.70,136.40 C 246.15,135.97 242.37,135.28 239.00,134.30 C 235.63,133.32 232.50,132.37 229.50,130.50 C 226.50,128.63 223.67,125.93 221.00,123.10 C 218.33,120.27 215.18,115.45 213.50,113.50 C 211.82,111.55 211.52,111.05 210.90,111.40 Z" fill="url(#gbot)"/>
<g transform="translate(748.0,0) scale(-1,1)"><path d="M 217.10,100.30 C 217.57,99.28 219.65,96.82 222.20,95.70 C 224.75,94.58 228.98,93.83 232.40,93.60 C 235.82,93.37 239.28,93.62 242.70,94.30 C 246.12,94.98 249.83,96.37 252.90,97.70 C 255.97,99.03 258.55,100.17 261.10,102.30 C 263.65,104.43 266.33,107.43 268.20,110.50 C 270.07,113.57 271.70,117.63 272.30,120.70 C 272.90,123.77 272.48,127.02 271.80,128.90 C 271.12,130.78 269.50,131.72 268.20,132.00 C 266.90,132.28 265.47,132.17 264.00,130.60 C 262.53,129.03 261.07,125.27 259.40,122.60 C 257.73,119.93 256.07,116.87 254.00,114.60 C 251.93,112.33 249.78,110.57 247.00,109.00 C 244.22,107.43 240.58,106.20 237.30,105.20 C 234.02,104.20 230.28,103.57 227.30,103.00 C 224.32,102.43 221.10,102.25 219.40,101.80 C 217.70,101.35 216.63,101.32 217.10,100.30 Z" fill="url(#gtop)"/><path d="M 210.90,111.40 C 210.28,111.75 209.83,113.62 209.80,115.60 C 209.77,117.58 209.95,120.53 210.70,123.30 C 211.45,126.07 212.65,129.25 214.30,132.20 C 215.95,135.15 218.10,138.43 220.60,141.00 C 223.10,143.57 226.23,145.95 229.30,147.60 C 232.37,149.25 235.60,150.42 239.00,150.90 C 242.40,151.38 246.50,151.08 249.70,150.50 C 252.90,149.92 255.95,148.68 258.20,147.40 C 260.45,146.12 262.23,144.12 263.20,142.80 C 264.17,141.48 264.48,140.48 264.00,139.50 C 263.52,138.52 262.68,137.42 260.30,136.90 C 257.92,136.38 253.25,136.83 249.70,136.40 C 246.15,135.97 242.37,135.28 239.00,134.30 C 235.63,133.32 232.50,132.37 229.50,130.50 C 226.50,128.63 223.67,125.93 221.00,123.10 C 218.33,120.27 215.18,115.45 213.50,113.50 C 211.82,111.55 211.52,111.05 210.90,111.40 Z" fill="url(#gbot)"/></g>
<line x1="469.8" y1="104.1" x2="540.4" y2="138.7" stroke="#7d1a14" stroke-width="3.4"/>
<line x1="469.8" y1="138.3" x2="540.4" y2="104.4" stroke="#7d1a14" stroke-width="3.4"/>
<line x1="279.7" y1="144.3" x2="205" y2="96.5" stroke="#231815" stroke-width="1.9"/>
<polygon points="195.85,91.3 211.3,93.8 206.5,97.5 204.6,103.9" fill="#231815"/>
<line x1="212" y1="406.5" x2="279" y2="335" stroke="#231815" stroke-width="1.2"/>
<polygon points="282.2,331.7 274.8,334.9 277.8,336.4 279.7,339.4" fill="#231815"/>
<g transform="translate(260.1,354.05) rotate(43.4)"><ellipse cx="-10" cy="32.5" rx="10.5" ry="23.5" fill="url(#vrg)"/>
<ellipse cx="11.5" cy="32" rx="11" ry="23.5" fill="url(#vrg)"/>
<path d="M -8,8 L 8,8 Q 4,15 7,22 L -7,22 Q -4,15 -8,8 Z" fill="url(#vneck)"/>
<ellipse cx="1" cy="37.5" rx="11" ry="19.5" fill="url(#vrg)"/>
<rect x="-13" y="-10" width="26" height="20" fill="url(#vrh)"/></g>
<line x1="537.4" y1="406.2" x2="470.5" y2="335" stroke="#231815" stroke-width="1.2"/>
<polygon points="467.2,331.7 474.6,334.9 471.6,336.4 469.7,339.4" fill="#231815"/>
<g transform="translate(489.35,354.35) scale(-1,1) rotate(43.4)"><ellipse cx="-10" cy="32.5" rx="10.5" ry="23.5" fill="url(#vrg)"/>
<ellipse cx="11.5" cy="32" rx="11" ry="23.5" fill="url(#vrg)"/>
<path d="M -8,8 L 8,8 Q 4,15 7,22 L -7,22 Q -4,15 -8,8 Z" fill="url(#vneck)"/>
<ellipse cx="1" cy="37.5" rx="11" ry="19.5" fill="url(#vrg)"/>
<rect x="-13" y="-10" width="26" height="20" fill="url(#vrh)"/></g>
<text x="504.9" y="49.0" font-family="Liberation Sans" font-size="31.5" fill="#231815">nutrient stress</text>
<text x="111.6" y="156.9" font-family="Liberation Sans" font-size="31.5" fill="#231815">Slc15A</text>
<text x="320.6" y="214.1" font-family="Liberation Sans" font-size="31.5" fill="#231815">nascent</text>
<text x="263.6" y="249.1" font-family="Liberation Sans" font-size="31.5" fill="#231815">macropinosome</text>
<text x="84.0" y="360.2" font-family="Liberation Sans" font-size="31.5" fill="#231815">v-ATPase</text>
<text x="534.9" y="351.1" font-family="Liberation Sans" font-size="31.5" fill="#231815">v-ATPase</text>
<text transform="translate(189.5,83.7) scale(1,1.05)" x="0" y="0" font-family="Liberation Sans" font-size="24.5" fill="#231815">H</text>
<text transform="translate(286.7,340.8) scale(1,1.05)" x="0" y="0" font-family="Liberation Sans" font-size="24.5" fill="#231815">H</text>
<text transform="translate(439.5,340.8) scale(1,1.05)" x="0" y="0" font-family="Liberation Sans" font-size="24.5" fill="#231815">H</text>
<path d="M 208.5,66.1 H 217.5 M 213,61.99999999999999 V 70.19999999999999" stroke="#231815" stroke-width="2" fill="none"/>
<path d="M 305.7,323.5 H 314.7 M 310.2,319.4 V 327.6" stroke="#231815" stroke-width="2" fill="none"/>
<path d="M 458.5,323.6 H 467.5 M 463,319.5 V 327.70000000000005" stroke="#231815" stroke-width="2" fill="none"/>
</svg>
</body></html>
